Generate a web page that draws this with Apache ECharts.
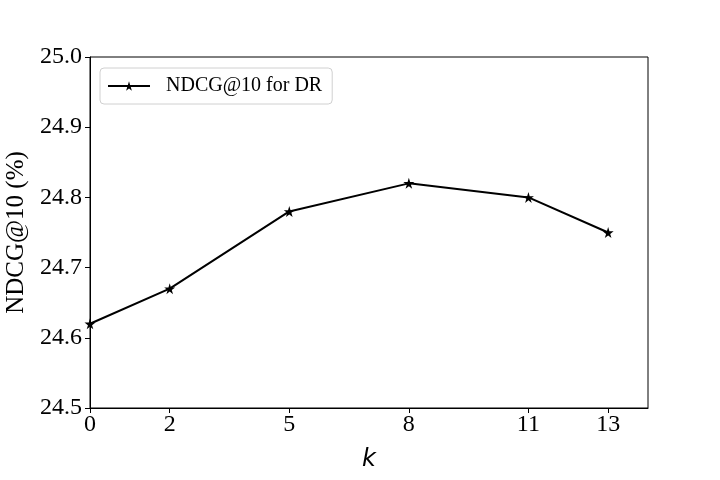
<!DOCTYPE html>
<html>
<head>
<meta charset="utf-8">
<script src="https://cdn.jsdelivr.net/npm/echarts@6/dist/echarts.min.js"></script>
<style>
  html, body { margin: 0; padding: 0; background: #fff; }
  #chart { width: 720px; height: 480px; }
</style>
</head>
<body>
<div id="chart"></div>
<script>
// k values and NDCG@10 (%)
const kValues = [0, 2, 5, 8, 11, 13];
const ndcg = [24.62, 24.67, 24.78, 24.82, 24.80, 24.75];
const xTicks = [0, 2, 5, 8, 11, 13];

const serif = '"Liberation Serif", "DejaVu Serif", serif';
const star = 'path://M50,0 L61,35 L98,35 L68,57 L79,91 L50,70 L21,91 L32,57 L2,35 L39,35 Z';

const chart = echarts.init(document.getElementById('chart'));

const option = {
  animation: false,
  backgroundColor: '#fff',
  grid: {
    left: 90, right: 72, top: 57, bottom: 72,
    outerBoundsMode: 'none',
    containLabel: false,
    show: true, borderColor: '#000', borderWidth: 1, backgroundColor: 'transparent'
  },
  legend: {
    left: 100, top: 68,
    padding: [8, 10, 8, 7],
    itemWidth: 42, itemHeight: 12,
    borderColor: '#d0d0d0', borderWidth: 1, borderRadius: 4,
    textStyle: { fontFamily: serif, fontSize: 20, color: '#000', padding: [0, 0, 0, 11] },
    data: ['NDCG@10 for DR']
  },
  xAxis: {
    type: 'value',
    min: 0, max: 14,
    name: 'k',
    nameLocation: 'middle',
    nameGap: 40,
    nameTextStyle: { fontFamily: '"DejaVu Sans", sans-serif', fontStyle: 'italic', fontSize: 24, color: '#000' },
    axisLine: { show: true, lineStyle: { color: '#000', width: 1 } },
    axisTick: { show: true, inside: false, length: 5, customValues: xTicks, lineStyle: { color: '#000' } },
    axisLabel: { customValues: xTicks, fontFamily: serif, fontSize: 24, color: '#000', margin: 5 },
    splitLine: { show: false }
  },
  yAxis: {
    type: 'value',
    min: 24.5, max: 25.0, interval: 0.1,
    name: 'NDCG@10 (%)',
    nameLocation: 'middle',
    nameGap: 57,
    nameTextStyle: { fontFamily: serif, fontSize: 25, color: '#000' },
    axisLine: { show: true, lineStyle: { color: '#000', width: 1 } },
    axisTick: { show: true, inside: false, length: 5, lineStyle: { color: '#000' } },
    axisLabel: {
      fontFamily: serif, fontSize: 24, color: '#000', margin: 8,
      formatter: v => v.toFixed(1)
    },
    splitLine: { show: false }
  },
  series: [{
    name: 'NDCG@10 for DR',
    type: 'line',
    data: kValues.map((k, i) => [k, ndcg[i]]),
    symbol: star,
    symbolSize: 11,
    showAllSymbol: true,
    lineStyle: { color: '#000', width: 2 },
    itemStyle: { color: '#000' }
  }]
};

chart.setOption(option);
</script>
</body>
</html>
